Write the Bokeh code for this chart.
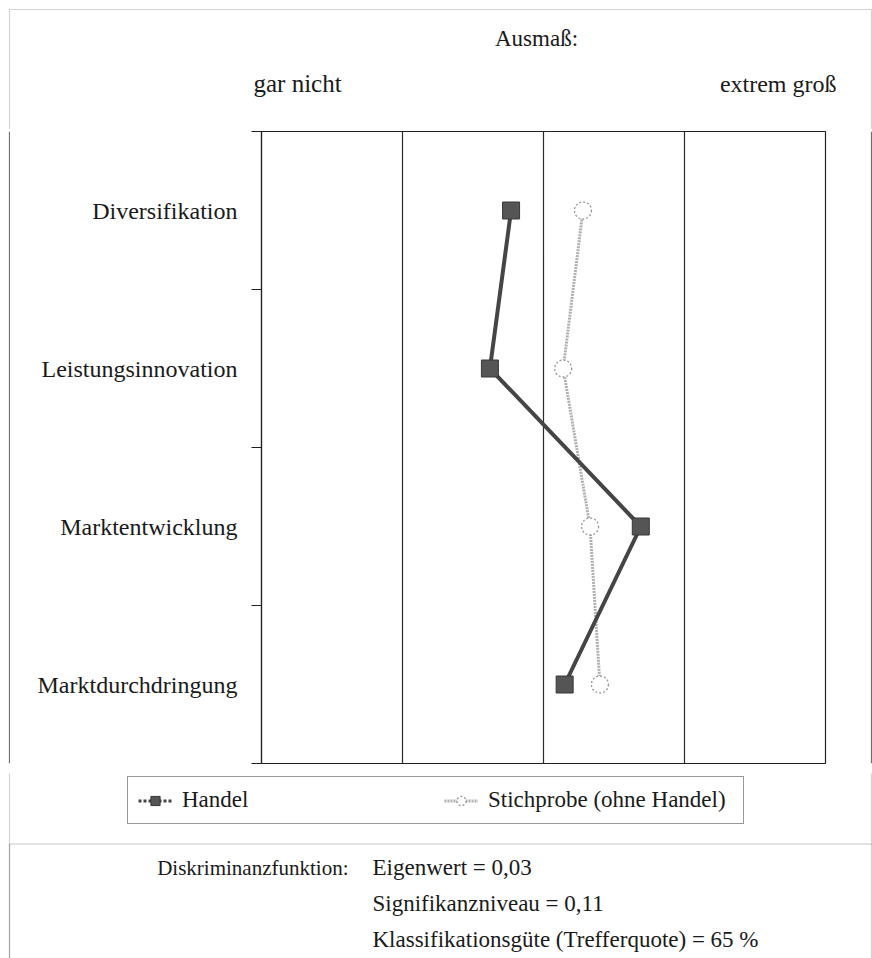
from bokeh.plotting import figure
from bokeh.layouts import column, row
from bokeh.models import (Range1d, FixedTicker, Legend, LegendItem, BoxAnnotation, Span)
from bokeh.core.properties import value
from bokeh.embed import file_html
from bokeh.resources import INLINE

# ---------------- data ----------------
categories = ["Diversifikation", "Leistungsinnovation", "Marktentwicklung", "Marktdurchdringung"]
handel = [2.77, 2.62, 3.69, 3.15]
stichprobe = [3.28, 3.14, 3.33, 3.40]
scale_min, scale_max = 1, 5
scale_labels = ["gar nicht", "extrem groß"]
scale_title = "Ausmaß:"
series_names = ["Handel", "Stichprobe (ohne Handel)"]
footer_head = "Diskriminanzfunktion:"
footer_lines = ["Eigenwert = 0,03", "Signifikanzniveau = 0,11",
                "Klassifikationsgüte (Trefferquote) = 65 %"]

# ---------------- layout constants (pixels) ----------------
TOTAL_W = 872
PLOT_L, PLOT_R = 261, 825          # plot box left/right on the page
FRAME_L, FRAME_R = 9, 871          # outer frame lines
HEAD_H = 129
MAIN_TOP, MAIN_BOT = 2, 10
PLOT_H = 632
MAIN_H = MAIN_TOP + PLOT_H + MAIN_BOT
LEG_H = 69
FOOT_H = 116
STRIP_W = 10

AXFONT = "Liberation Serif"
GFONT = "'Liberation Serif', 'Times New Roman', serif"
TXT = "#1a1a1a"
FRAME_COL = "#6e6e6e"

px_per_unit = (PLOT_R - PLOT_L) / (scale_max - scale_min)


def blank(width, height, x_range, y_range):
    f = figure(width=width, height=height, x_range=x_range, y_range=y_range,
               min_border=0, x_axis_type=None, y_axis_type=None,
               toolbar_location=None, output_backend="svg")
    f.outline_line_color = None
    f.background_fill_color = "white"
    f.border_fill_color = "white"
    return f


def frame_sides(f, top_px=None):
    # outer frame: vertical sides (and optionally a top line), screen units
    h = f.height
    f.add_layout(BoxAnnotation(left=FRAME_L, right=FRAME_R,
                               top=(h - top_px if top_px is not None else h + 50),
                               bottom=-50,
                               left_units="screen", right_units="screen",
                               top_units="screen", bottom_units="screen",
                               fill_alpha=0, line_color=FRAME_COL, line_width=1.2))


# ---------------- header ----------------
head = blank(TOTAL_W, HEAD_H,
             Range1d(scale_min - PLOT_L / px_per_unit,
                     scale_min + (TOTAL_W - PLOT_L) / px_per_unit),
             Range1d(HEAD_H, 0))
frame_sides(head, top_px=9)
head.text(x=[(scale_min + scale_max) / 2], y=[38], text=[scale_title], x_offset=-7,
          text_align="center", text_baseline="middle", text_font=value(GFONT),
          text_font_size="23px", text_color=TXT)
head.text(x=[scale_min], y=[83], text=[scale_labels[0]], x_offset=-8,
          text_align="left", text_baseline="middle", text_font=value(GFONT),
          text_font_size="25px", text_color=TXT)
head.text(x=[scale_max], y=[83], text=[scale_labels[1]], x_offset=11,
          text_align="right", text_baseline="middle", text_font=value(GFONT),
          text_font_size="24px", text_color=TXT)

# ---------------- main plot ----------------
main_w = TOTAL_W - 2 * STRIP_W
p = figure(width=main_w, height=MAIN_H, output_backend="svg", toolbar_location=None,
           x_range=Range1d(scale_min, scale_max), y_range=Range1d(len(categories), 0),
           min_border_left=PLOT_L - STRIP_W, min_border_right=TOTAL_W - STRIP_W - PLOT_R,
           min_border_top=MAIN_TOP, min_border_bottom=MAIN_BOT)
p.background_fill_color = "white"
p.border_fill_color = "white"
p.outline_line_color = "#222222"
p.outline_line_width = 1.2

p.xaxis.visible = False
p.xgrid.ticker = FixedTicker(ticks=list(range(scale_min + 1, scale_max)))
p.xgrid.grid_line_color = "#2a2a2a"
p.xgrid.grid_line_width = 1.2
p.ygrid.grid_line_color = None

ypos = [i + 0.5 for i in range(len(categories))]
yax = p.yaxis[0]
yax.ticker = FixedTicker(ticks=ypos, minor_ticks=list(range(len(categories) + 1)))
yax.major_label_overrides = {y: c for y, c in zip(ypos, categories)}
yax.major_tick_out = 0
yax.major_tick_in = 0
yax.minor_tick_out = 10
yax.minor_tick_in = 0
yax.minor_tick_line_color = "#222222"
yax.minor_tick_line_width = 1.2
yax.axis_line_color = "#222222"
yax.axis_line_width = 1.2
yax.major_label_standoff = 14
yax.major_label_text_font = AXFONT
yax.major_label_text_font_size = "24px"
yax.major_label_text_color = TXT

STICH_LINE = dict(line_color="#b0b0b0", line_width=3, line_dash="2 1")
STICH_MARK = dict(marker="circle", size=17, fill_color="white",
                  line_color="#9a9a9a", line_width=1.3, line_dash="2 2")
HAND_LINE = dict(line_color="#454545", line_width=4)
HAND_MARK = dict(marker="square", size=17, fill_color="#555555",
                 line_color="#383838", line_width=1)

p.line(stichprobe, ypos, **STICH_LINE)
p.scatter(stichprobe, ypos, **STICH_MARK)
p.line(handel, ypos, **HAND_LINE)
p.scatter(handel, ypos, **HAND_MARK)

# side strips carrying the outer frame lines next to the plot
lstrip = blank(STRIP_W, MAIN_H, Range1d(0, STRIP_W), Range1d(0, 1))
lstrip.add_layout(Span(location=FRAME_L, dimension="height", line_color=FRAME_COL, line_width=1.2))
rstrip = blank(STRIP_W, MAIN_H, Range1d(TOTAL_W - STRIP_W, TOTAL_W), Range1d(0, 1))
rstrip.add_layout(Span(location=FRAME_R, dimension="height", line_color=FRAME_COL, line_width=1.2))

# ---------------- legend ----------------
leg = blank(TOTAL_W, LEG_H, Range1d(scale_min, scale_max), Range1d(len(categories), 0))
frame_sides(leg)
lh1 = leg.line(handel, ypos, visible=False, **dict(HAND_LINE, line_dash="3 2", line_width=3))
lh2 = leg.scatter(handel, ypos, visible=False, **HAND_MARK)
ls1 = leg.line(stichprobe, ypos, visible=False, **STICH_LINE)
ls2 = leg.scatter(stichprobe, ypos, visible=False, **STICH_MARK)
legend = Legend(items=[LegendItem(label=series_names[0], renderers=[lh1, lh2]),
                       LegendItem(label=series_names[1], renderers=[ls1, ls2])],
                orientation="horizontal", location=(127, 18))
legend.glyph_width = 34
legend.glyph_height = 23
legend.label_height = 23
legend.label_width = 245
legend.label_standoff = 10
legend.spacing = 17
legend.padding = 10
legend.margin = 0
legend.border_line_color = "#333333"
legend.border_line_width = 1.2
legend.background_fill_color = "white"
legend.background_fill_alpha = 1
legend.label_text_font = GFONT
legend.label_text_font_size = "23px"
legend.label_text_color = TXT
leg.add_layout(legend)

# ---------------- footer ----------------
foot = blank(TOTAL_W, FOOT_H, Range1d(0, TOTAL_W), Range1d(FOOT_H, 0))
frame_sides(foot)
foot.add_layout(BoxAnnotation(left=FRAME_L, right=TOTAL_W + 5, top=FOOT_H - 1.5, bottom=-50,
                              left_units="screen", right_units="screen",
                              top_units="screen", bottom_units="screen",
                              fill_alpha=0, line_color="#3a3a3a", line_width=1.2))
foot.text(x=[348], y=[25], text=[footer_head], text_align="right", text_baseline="middle",
          text_font=value(GFONT), text_font_size="21px", text_color=TXT)
foot.text(x=[372] * len(footer_lines), y=[25 + 36 * i for i in range(len(footer_lines))],
          text=footer_lines, text_align="left", text_baseline="middle",
          text_font=value(GFONT), text_font_size="23px", text_color=TXT)

layout = column(head, row(lstrip, p, rstrip), leg, foot)
open("out.html", "w").write(file_html(layout, INLINE))
